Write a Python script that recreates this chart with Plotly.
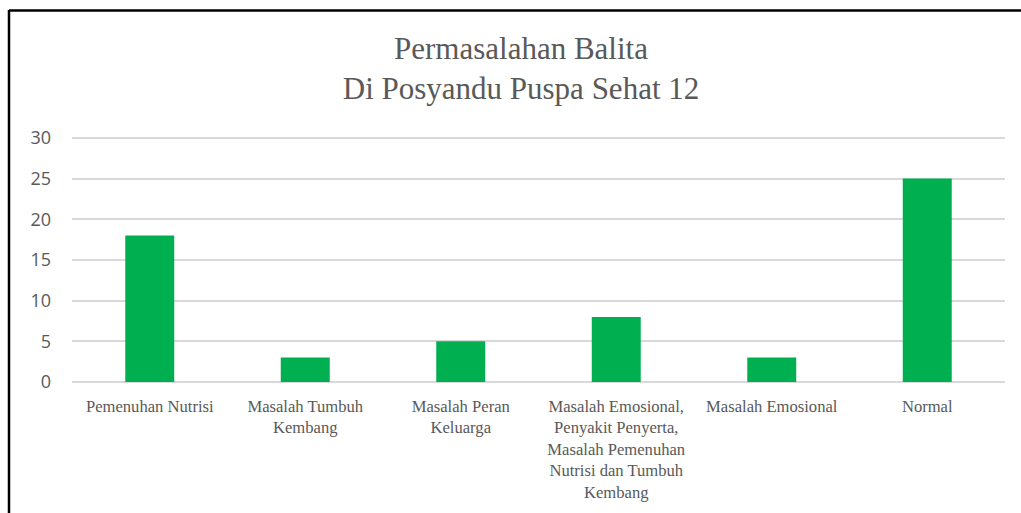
import plotly.graph_objects as go

categories = [
    "Pemenuhan Nutrisi",
    "Masalah Tumbuh<br>Kembang",
    "Masalah Peran<br>Keluarga",
    "Masalah Emosional,<br>Penyakit Penyerta,<br>Masalah Pemenuhan<br>Nutrisi dan Tumbuh<br>Kembang",
    "Masalah Emosional",
    "Normal",
]
values = [18, 3, 5, 8, 3, 25]
y_ticks = [0, 5, 10, 15, 20, 25, 30]

W, H = 1021, 513
L, R, T, B = 72, 16, 133, 131
pw, ph = W - L - R, H - T - B

fig = go.Figure(go.Bar(x=categories, y=values, marker=dict(color="#00B050", line=dict(width=0)), width=0.315))

fig.update_layout(
    width=W, height=H,
    margin=dict(l=L, r=R, t=T, b=B, autoexpand=False),
    paper_bgcolor="white", plot_bgcolor="white",
    showlegend=False,
    title=dict(
        text="Permasalahan Balita<br>Di Posyandu Puspa Sehat 12",
        x=521 / W, xanchor="center", xref="container",
        y=1 - 58.5 / H, yanchor="middle", yref="container",
        font=dict(family="Liberation Serif", size=31, color="#595959"),
        automargin=False,
    ),
    xaxis=dict(
        tickfont=dict(family="Liberation Serif", size=16.6, color="#595959"),
        showgrid=False, showline=False, ticks="", ticklabelstandoff=12,
        automargin=False,
    ),
    yaxis=dict(
        range=[0, 30.6], tickvals=y_ticks,
        tickfont=dict(family="Open Sans", size=18, color="#595959"),
        showgrid=True, gridcolor="#D9D9D9", gridwidth=1.5,
        zeroline=True, zerolinecolor="#D9D9D9", zerolinewidth=2,
        showline=False, ticks="", ticklabelstandoff=20,
        automargin=False,
    ),
    shapes=[
        dict(type="line", xref="paper", yref="paper",
             x0=(9 - L) / pw, x1=(9 - L) / pw, y0=1 + (T - 10) / ph, y1=-B / ph,
             line=dict(color="black", width=2.5)),
        dict(type="line", xref="paper", yref="paper",
             x0=(9 - L) / pw, x1=(W + 5 - L) / pw, y0=1 + (T - 10.5) / ph, y1=1 + (T - 10.5) / ph,
             line=dict(color="black", width=2.5)),
    ],
)

fig.write_html("out.html", config={"displayModeBar": False},
               post_script="document.body.style.margin='0';")
